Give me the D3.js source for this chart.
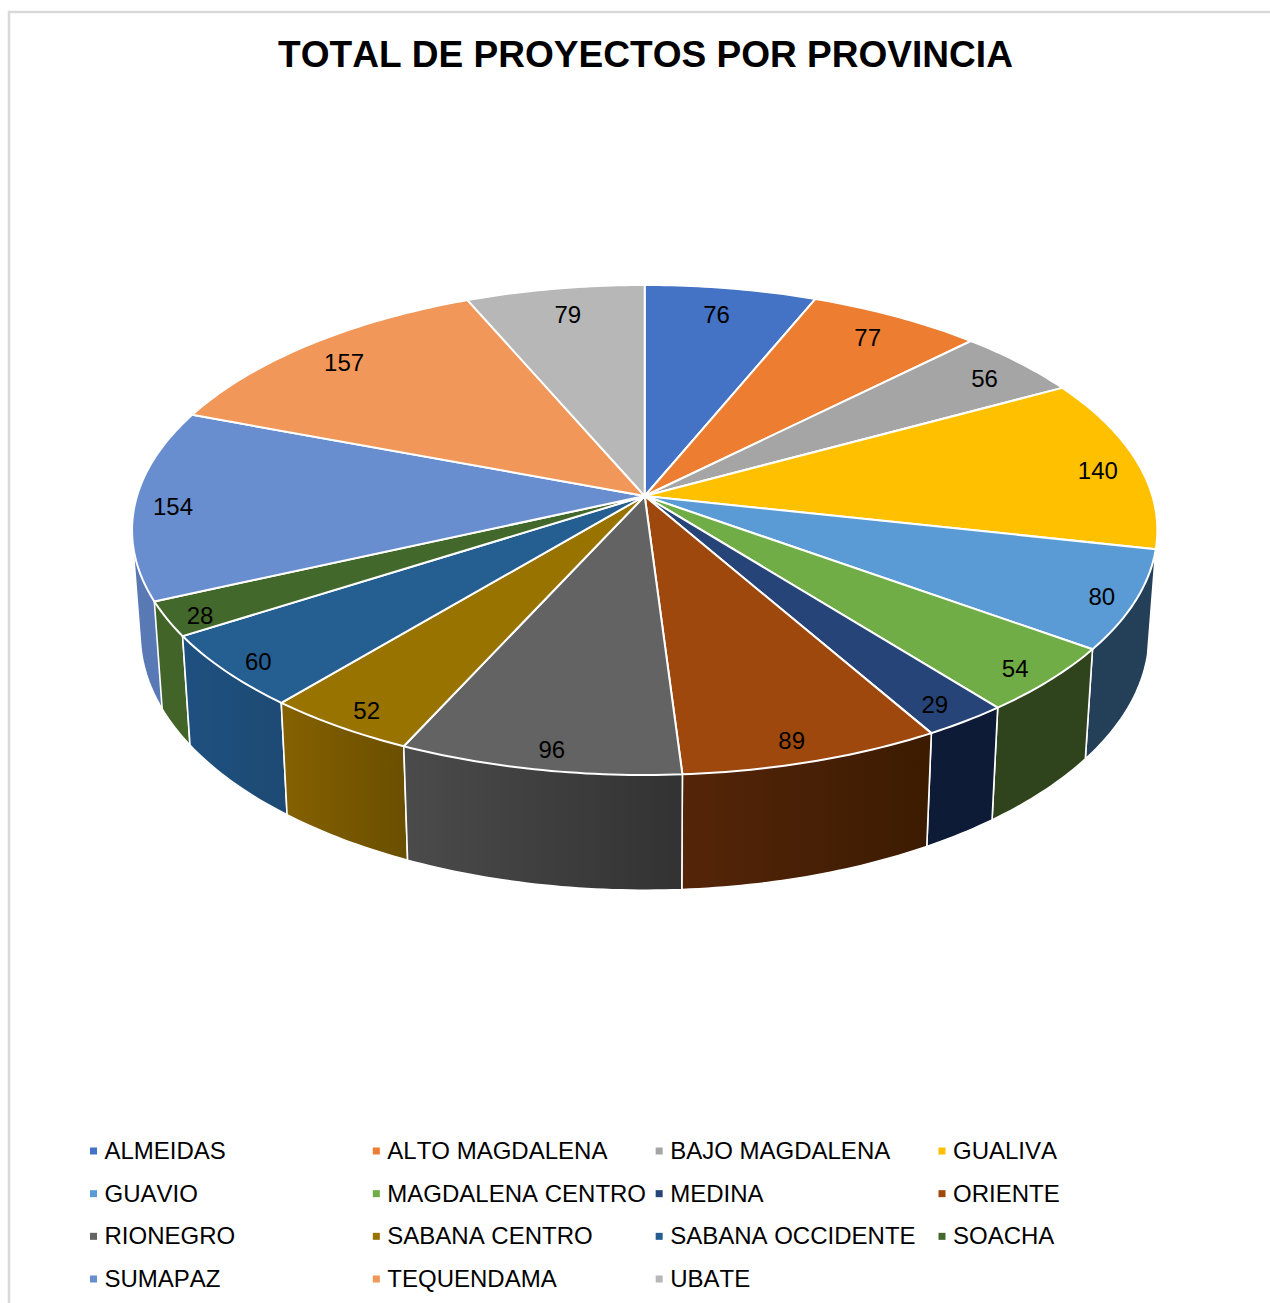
<!DOCTYPE html>
<html><head><meta charset="utf-8">
<script src="https://cdn.jsdelivr.net/npm/d3@7/dist/d3.min.js"></script>
<style>html,body{margin:0;padding:0;background:#fff}svg{display:block}text{font-family:"Liberation Sans",Arial,sans-serif;fill:#000;font-kerning:none}</style>
</head><body><svg id="c" width="1270" height="1303"></svg>
<script>
const chartTitle = "TOTAL DE PROYECTOS POR PROVINCIA";
const provinces = ["ALMEIDAS","ALTO MAGDALENA","BAJO MAGDALENA","GUALIVA","GUAVIO","MAGDALENA CENTRO","MEDINA","ORIENTE","RIONEGRO","SABANA CENTRO","SABANA OCCIDENTE","SOACHA","SUMAPAZ","TEQUENDAMA","UBATE"];
const projects = [76,77,56,140,80,54,29,89,96,52,60,28,154,157,79];
const topColors = ["#4472C4","#ED7D31","#A5A5A5","#FFC000","#5B9BD5","#70AD47","#264478","#9E480E","#636363","#997300","#255E91","#43682B","#698ED0","#F1975A","#B7B7B7"];
const wallStart = ["#223a66","#7a3f18","#555555","#806000","#243f58","#2f441c","#0e1b36","#552509","#4b4b4b","#856100","#1e5080","#426428","#5a79b4","#7a4c2e","#5e5e5e"];
const wallEnd   = ["#223a66","#7a3f18","#555555","#806000","#243f58","#2f441c","#0e1b36","#3b1b01","#323232","#6a4f00","#1d4a73","#426428","#557ab8","#7a4c2e","#5e5e5e"];
const labelRadius = [.855,.866,.886,.911,.94,.933,.93,.93,.936,.934,.938,.943,.924,.875,.857];
const labelTurnDeg = [-.5,.3,1,1.7,1.1,.9,.8,.9,-.6,-.7,-.8,-1.2,-1.2,-.9,.2];
const legendColumns = 4;

const svg = d3.select("#c");
const cx = 644.7, cy = 496, tilt = .1387;
const sx = d3.scaleLinear().domain([-1,1]).range([cx-507.7,cx+507.7]);
const sy = d3.scaleLinear().domain([-1,1]).range([cy+240.3,cy-240.3]);
// Bottom disc of the extruded pie, derived from the top disc
const bx = d3.scaleLinear().domain([cx-100,cx+100]).range([cx-98.4,cx+98.4]);
const by = d3.scaleLinear().domain([495,775]).range([597.8,890.2]);

function project(angle,r){
  const x = r*Math.sin(angle), y = r*Math.cos(angle), w = 1+tilt*y;
  return [sx(x/w), sy(y/w)];
}
const toBottom = p => [bx(p[0]), by(p[1])];
const line = d3.line();
const arcs = d3.pie().sort(null).value(d=>d)(projects);
const arcPts = a => {
  const n = Math.max(2,Math.ceil((a.endAngle-a.startAngle)/0.015));
  return d3.range(n+1).map(i=>project(a.startAngle+(a.endAngle-a.startAngle)*i/n,1));
};

// frame
svg.append("path").attr("d","M1270,12H9V1303").attr("fill","none").attr("stroke","#d9d9d9").attr("stroke-width",2.5);

// title
svg.append("text").attr("x",645.5).attr("y",67).attr("text-anchor","middle")
  .attr("font-size",37.05).attr("font-weight","bold").text(chartTitle);

// gradients
const defs = svg.append("defs");
arcs.forEach((a,i)=>{
  const g = defs.append("linearGradient").attr("id","w"+i);
  g.append("stop").attr("offset",0).attr("stop-color",wallStart[i]);
  g.append("stop").attr("offset",1).attr("stop-color",wallEnd[i]);
});

// side walls, drawn from the back to the front
const order = d3.range(arcs.length).sort((p,q)=>{
  const d = a=>Math.cos((a.startAngle+a.endAngle)/2);
  return d(arcs[q])-d(arcs[p]);
});
svg.append("g").selectAll("path").data(order).join("path")
  .attr("d",i=>{
    const t = arcPts(arcs[i]);
    return line(d3.polygonHull(t.concat(t.map(toBottom))))+"Z";
  })
  .attr("fill",i=>`url(#w${i})`)
  .attr("stroke","#fff").attr("stroke-width",1.6).attr("stroke-linejoin","round");

// top faces
svg.append("g").selectAll("path").data(arcs).join("path")
  .attr("d",a=>line([[cx,cy]].concat(arcPts(a)))+"Z")
  .attr("fill",(a,i)=>topColors[i])
  .attr("stroke","#fff").attr("stroke-width",2).attr("stroke-linejoin","round");
svg.append("circle").attr("cx",cx+1).attr("cy",cy).attr("r",3).attr("fill","#fff");

// value labels
const labelPos = (a,i)=>project((a.startAngle+a.endAngle)/2+labelTurnDeg[i]*Math.PI/180,labelRadius[i]);
svg.append("g").selectAll("text").data(arcs).join("text")
  .attr("x",(a,i)=>labelPos(a,i)[0])
  .attr("y",(a,i)=>labelPos(a,i)[1]+7.5)
  .attr("text-anchor","middle").attr("font-size",24)
  .text(a=>a.data);

// legend
const colX = d3.scaleLinear().domain([0,3]).range([90,938.5]);
const rowY = d3.scaleLinear().domain([0,3]).range([1151,1279]);
const items = svg.append("g").selectAll("g").data(provinces).join("g")
  .attr("transform",(d,i)=>`translate(${colX(i%legendColumns)},${rowY(Math.floor(i/legendColumns))})`);
items.append("rect").attr("x",0).attr("y",-3.5).attr("width",7).attr("height",7).attr("fill",(d,i)=>topColors[i]);
items.append("text").attr("x",14.5).attr("y",8).attr("font-size",24).text(d=>d);
</script></body></html>
